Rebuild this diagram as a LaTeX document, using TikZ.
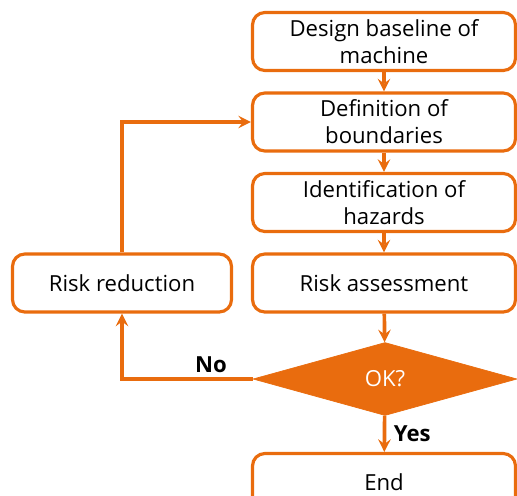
\documentclass[tikz,border=0pt]{standalone}
\usepackage{fontspec}
\setmainfont{Open Sans}
\usepackage{tikz}
\usetikzlibrary{shapes.geometric}
\definecolor{riskorange}{RGB}{233,108,14}

\begin{document}
\begin{tikzpicture}[>=stealth, x=0.02cm, y=-0.02cm]
  \tikzset{
    stepbox/.style={draw=riskorange, line width=1.8pt, rounded corners=7pt,
      minimum width=5.26cm, minimum height=1.16cm, align=center, inner sep=2pt,
      font=\fontsize{12.6}{15.5}\selectfont},
    decision/.style={diamond, fill=riskorange, draw=riskorange, inner sep=0pt,
      minimum width=5.28cm, minimum height=1.46cm, text=white,
      font=\fontsize{12.6}{15.5}\selectfont},
    link/.style={riskorange, line width=2.1pt, ->},
    tag/.style={text=black, font=\fontsize{12.6}{15.5}\selectfont\bfseries}
  }
  \useasboundingbox (0,0) rectangle (517,495);
  % ---------- main column ----------
  \node[stepbox] (design) at (384,41.5) {Design baseline of\\machine};
  \node[stepbox] (bounds) at (384,122) {Definition of\\boundaries};
  \node[stepbox] (hazards) at (384,202.5) {Identification of\\hazards};
  \node[stepbox] (assess) at (384,283) {Risk assessment};
  \node[decision] (ok) at (385,379) {OK?};
  \node[stepbox] (finish) at (384,482.5) {End};
  % ---------- loop back ----------
  \node[stepbox, minimum width=4.38cm] (reduce) at (122,283) {Risk reduction};
  % connectors
  \draw[link] (design) -- (bounds);
  \draw[link] (bounds) -- (hazards);
  \draw[link] (hazards) -- (assess);
  \draw[link] (assess) -- (ok);
  \draw[link] (ok) -- (finish) node[tag, midway, right, xshift=1pt] {Yes};
  \draw[link] (ok.west) -| (reduce.south) node[tag, pos=0.16, above, yshift=-1pt] {No};
  \draw[link] (reduce.north) |- (bounds.west);
\end{tikzpicture}
\end{document}
